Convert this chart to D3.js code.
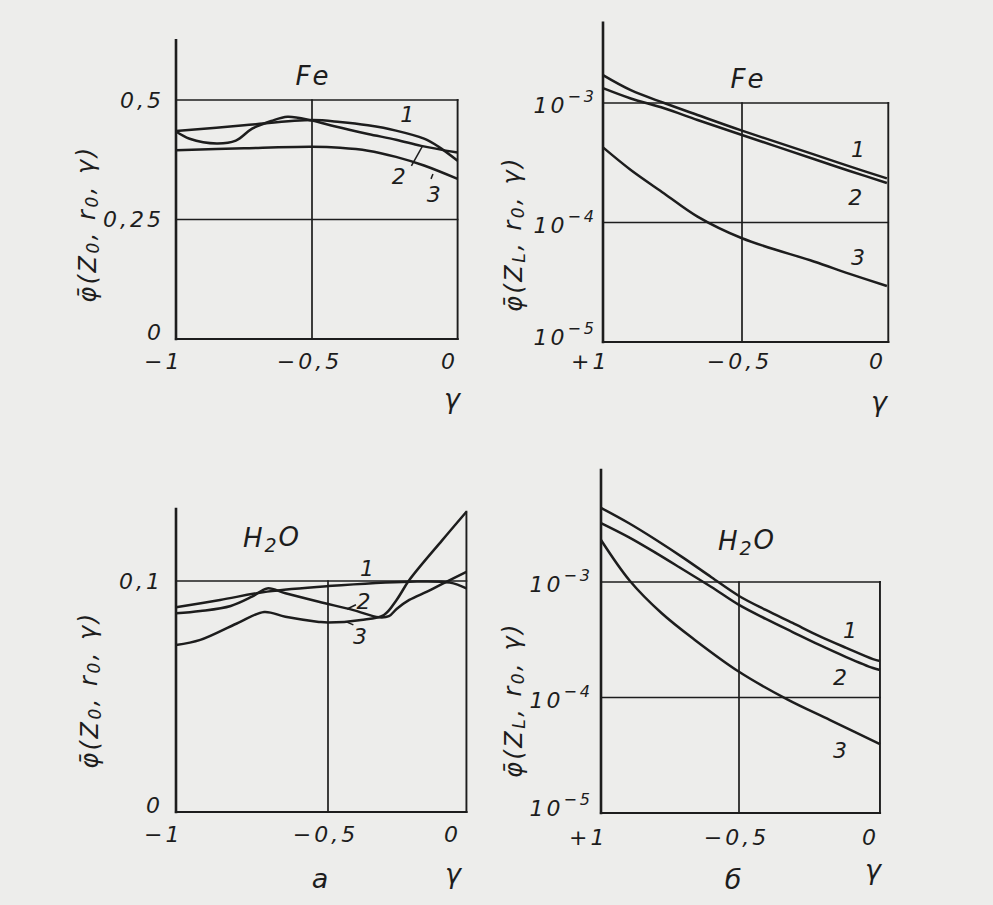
<!DOCTYPE html>
<html>
<head>
<meta charset="utf-8">
<script src="https://cdn.jsdelivr.net/npm/d3@7"></script>
<style>
  body { margin: 0; background: #ededeb; }
  svg text {
    font-family: "DejaVu Sans", "Liberation Sans", sans-serif;
    font-style: italic;
    fill: #1d1d1d;
  }
  .tick-label { font-size: 22px; letter-spacing: 3px; }
  .curve-label { font-size: 22px; }
  .title { font-size: 26px; letter-spacing: 2px; }
  .y-title { font-size: 24px; letter-spacing: 2.5px; }
  .gamma { font-size: 27px; }
</style>
</head>
<body>
<svg id="chart" width="993" height="905"></svg>
<script>
// Tick values and labels
const gammaTicks = [-1, -0.5, 0];
const gammaTickLabelsA = ["−1", "−0,5", "0"];
const gammaTickLabelsB = ["+1", "−0,5", "0"];
const feLinearTicks = [0, 0.25, 0.5];
const feLinearTickLabels = ["0", "0,25", "0,5"];
const waterLinearTicks = [0, 0.1];
const waterLinearTickLabels = ["0", "0,1"];
const logTicks = [1e-5, 1e-4, 1e-3];
const logTickExponents = ["−5", "−4", "−3"];
const curveNames = ["1", "2", "3"];

// Fe, phi(z0, r0, gamma)
const feZ0Gamma1 = [-1, -0.75, -0.5, -0.4, -0.3, -0.2, -0.1, -0.05, 0.02];
const feZ0Curve1 = [0.435, 0.447, 0.458, 0.454, 0.447, 0.436, 0.419, 0.403, 0.373];
const feZ0Gamma2 = [-1, -0.95, -0.85, -0.78, -0.72, -0.65, -0.59, -0.5, -0.42, -0.3, -0.2, -0.11, 0.02];
const feZ0Curve2 = [0.434, 0.419, 0.409, 0.415, 0.44, 0.456, 0.465, 0.457, 0.445, 0.429, 0.417, 0.404, 0.39];
const feZ0Gamma3 = [-1, -0.75, -0.5, -0.4, -0.3, -0.2, -0.1, 0.02];
const feZ0Curve3 = [0.395, 0.399, 0.402, 0.4, 0.394, 0.381, 0.363, 0.335];

// Fe, phi(zL, r0, gamma)
const feZLGamma = [-1, -0.9, -0.78, -0.66, -0.5, -0.24, -0.11, 0.025];
const feZLCurve1 = [1.71e-3, 1.28e-3, 1.0e-3, 7.94e-4, 5.87e-4, 3.72e-4, 2.95e-4, 2.34e-4];
const feZLCurve2 = [1.33e-3, 1.09e-3, 9.03e-4, 7.21e-4, 5.4e-4, 3.4e-4, 2.7e-4, 2.14e-4];
const feZLCurve3 = [4.25e-4, 2.75e-4, 1.75e-4, 1.12e-4, 7.38e-5, 4.72e-5, 3.72e-5, 2.94e-5];

// H2O, phi(z0, r0, gamma)
const waterZ0Gamma1 = [-1, -0.855, -0.7, -0.5, -0.18, -0.02, 0.045];
const waterZ0Curve1 = [0.0886, 0.0918, 0.0954, 0.0978, 0.0997, 0.0993, 0.0968];
const waterZ0Gamma2 = [-1, -0.92, -0.82, -0.75, -0.7, -0.64, -0.53, -0.4, -0.3, -0.26, -0.23, -0.18, -0.11, -0.05, 0.045];
const waterZ0Curve2 = [0.086, 0.087, 0.0892, 0.0932, 0.0968, 0.0947, 0.091, 0.0874, 0.0843, 0.0848, 0.0879, 0.0918, 0.0954, 0.0988, 0.104];
const waterZ0Gamma3 = [-1, -0.92, -0.8, -0.71, -0.64, -0.53, -0.5, -0.37, -0.28, -0.23, -0.18, -0.05, 0.045];
const waterZ0Curve3 = [0.0723, 0.0745, 0.0816, 0.0866, 0.0845, 0.0823, 0.082, 0.0831, 0.0853, 0.0918, 0.1004, 0.1177, 0.13];

// H2O, phi(zL, r0, gamma)
const waterZLGamma = [-1, -0.9, -0.8, -0.7, -0.6, -0.5, -0.4, -0.3, -0.2, -0.1, 0, 0.026];
const waterZLCurve1 = [4.38e-3, 3.24e-3, 2.31e-3, 1.61e-3, 1.1e-3, 7.57e-4, 5.73e-4, 4.42e-4, 3.4e-4, 2.69e-4, 2.15e-4, 2.07e-4];
const waterZLCurve2 = [3.24e-3, 2.45e-3, 1.78e-3, 1.27e-3, 9.05e-4, 6.33e-4, 4.79e-4, 3.69e-4, 2.85e-4, 2.24e-4, 1.8e-4, 1.73e-4];
const waterZLGamma3 = [-1, -0.895, -0.78, -0.66, -0.5, -0.32, -0.16, 0.026];
const waterZLCurve3 = [2.31e-3, 1.02e-3, 5.36e-4, 3.15e-4, 1.67e-4, 9.64e-5, 6.38e-5, 3.95e-5];

const ink = "#1d1d1d";
const svg = d3.select("#chart");

/*
 * Panel settings: hand-drawn grids are not evenly spaced,
 * so the gamma scale is piecewise linear through -1, -0.5 and 0
 */
const panels = [
  {
    xRange: [176, 312, 452], xEnd: 0.02,
    log: false, yDomain: [0, 0.5], yRange: [339, 100],
    yAxisTop: 0.625, boxTop: 0.5, rightTop: 0.5, midLine: 0.25,
    yTicks: feLinearTicks, yTickLabels: feLinearTickLabels, yPad: 12,
    xTickLabels: gammaTickLabelsA, xPad: 14,
    series: [[feZ0Gamma1, feZ0Curve1], [feZ0Gamma2, feZ0Curve2], [feZ0Gamma3, feZ0Curve3]],
    title: ["Fe", null, 313, 76],
    yTitle: ["0", 88, 224],
    gammaAt: [452, 398], letter: null,
    labels: [[-0.16, 0.469], [-0.19, 0.339], [-0.065, 0.303]],
    leaders: [[[-0.145, 0.362], [-0.105, 0.404]], [[-0.075, 0.335], [-0.068, 0.345]]],
  },
  {
    xRange: [603, 742, 880], xEnd: 0.03,
    log: true, yDomain: [1e-5, 1e-3], yRange: [342, 103],
    yAxisTop: 4.7e-3, boxTop: 1e-3, rightTop: 1e-3, midLine: 1e-4,
    yTicks: logTicks, yPad: 6,
    xTickLabels: gammaTickLabelsB, xPad: 11,
    series: [[feZLGamma, feZLCurve1], [feZLGamma, feZLCurve2], [feZLGamma, feZLCurve3]],
    title: ["Fe", null, 748, 79],
    yTitle: ["L", 514, 234],
    gammaAt: [879, 401], letter: null,
    labels: [[-0.08, 4.05e-4], [-0.09, 1.63e-4], [-0.08, 5.05e-5]],
    leaders: [],
  },
  {
    xRange: [176, 328, 455], xEnd: 0.045,
    log: false, yDomain: [0, 0.1], yRange: [812, 581],
    yAxisTop: 0.1312, boxTop: 0.1, rightTop: 0.13, midLine: null,
    yTicks: waterLinearTicks, yTickLabels: waterLinearTickLabels, yPad: 13,
    xTickLabels: gammaTickLabelsA, xPad: 14,
    series: [[waterZ0Gamma1, waterZ0Curve1], [waterZ0Gamma2, waterZ0Curve2], [waterZ0Gamma3, waterZ0Curve3]],
    title: ["H", "2", 272, 538],
    yTitle: ["0", 90, 690],
    gammaAt: [453, 873], letter: ["a", 320, 878],
    labels: [[-0.346, 0.1056], [-0.36, 0.0913], [-0.374, 0.0758]],
    leaders: [[[-0.39, 0.0897], [-0.425, 0.0879]], [[-0.4, 0.081], [-0.43, 0.0824]]],
  },
  {
    xRange: [601, 739, 873], xEnd: 0.026,
    log: true, yDomain: [1e-5, 1e-3], yRange: [813, 582],
    yAxisTop: 9.3e-3, boxTop: 1e-3, rightTop: 1e-3, midLine: 1e-4,
    yTicks: logTicks, yPad: 8,
    xTickLabels: gammaTickLabelsB, xPad: 16,
    series: [[waterZLGamma, waterZLCurve1], [waterZLGamma, waterZLCurve2], [waterZLGamma3, waterZLCurve3]],
    title: ["H", "2", 747, 541],
    yTitle: ["L", 514, 700],
    gammaAt: [873, 869], letter: ["б", 733, 879],
    labels: [[-0.086, 3.84e-4], [-0.123, 1.5e-4], [-0.123, 3.5e-5]],
    leaders: [],
  },
];

/*
 * Draws one of the four panels
 *
 * @param p - panel settings
 */
const drawPanel = (p) => {
  const x = d3.scaleLinear().domain(gammaTicks).range(p.xRange);
  const y = (p.log ? d3.scaleLog() : d3.scaleLinear()).domain(p.yDomain).range(p.yRange);
  const g = svg.append("g");
  const yMin = p.yDomain[0];

  const rule = (x1, y1, x2, y2, w) =>
    g.append("line")
      .attr("x1", x1).attr("y1", y1).attr("x2", x2).attr("y2", y2)
      .attr("stroke", ink).attr("stroke-width", w).attr("stroke-linecap", "square");

  // Frame and grid
  rule(x(-1), y(yMin), x(-1), y(p.yAxisTop), 2.6);
  rule(x(-1), y(yMin), x(p.xEnd), y(yMin), 2.2);
  rule(x(-1), y(p.boxTop), x(p.xEnd), y(p.boxTop), 1.7);
  rule(x(p.xEnd), y(yMin), x(p.xEnd), y(p.rightTop), 1.9);
  rule(x(-0.5), y(yMin), x(-0.5), y(p.boxTop), 1.7);
  if (p.midLine !== null) rule(x(-1), y(p.midLine), x(p.xEnd), y(p.midLine), 1.6);

  // Curves
  const line = d3.line()
    .x((d) => x(d[0]))
    .y((d) => y(d[1]))
    .curve(d3.curveCatmullRom.alpha(0.5));

  p.series.forEach(([gs, vs]) => {
    g.append("path")
      .datum(gs.map((v, i) => [v, vs[i]]))
      .attr("d", line)
      .attr("fill", "none")
      .attr("stroke", ink)
      .attr("stroke-width", 2.5);
  });

  // X axis tick labels
  g.append("g")
    .attr("transform", "translate(0," + y(yMin) + ")")
    .call(d3.axisBottom(x).tickValues(gammaTicks).tickSize(0).tickPadding(p.xPad)
      .tickFormat((d, i) => p.xTickLabels[i]))
    .call((a) => a.select(".domain").remove())
    .selectAll("text")
    .attr("class", "tick-label")
    .attr("text-anchor", (d, i) => (i === 0 ? "end" : "middle"))
    .attr("dx", (d, i) => (i === 0 ? 6 : -3));

  // Y axis tick labels
  const yAxis = d3.axisLeft(y).tickValues(p.yTicks).tickSize(0).tickPadding(p.yPad)
    .tickFormat((d, i) => (p.log ? "10" : p.yTickLabels[i]));
  const yText = g.append("g")
    .attr("transform", "translate(" + x(-1) + ",0)")
    .call(yAxis)
    .call((a) => a.select(".domain").remove())
    .selectAll("text")
    .attr("class", "tick-label")
    .attr("y", (d, i) => (i === 0 ? -7 : 0));

  if (p.log) {
    yText.attr("dy", "0.45em")
      .append("tspan")
      .attr("dy", "-0.7em")
      .style("font-size", "16px")
      .text((d, i) => logTickExponents[i]);
  }

  // Curve numbers and leader strokes
  g.selectAll(".curve-label")
    .data(p.labels)
    .enter()
    .append("text")
    .attr("class", "curve-label")
    .attr("x", (d) => x(d[0]))
    .attr("y", (d) => y(d[1]))
    .attr("text-anchor", "middle")
    .attr("dominant-baseline", "central")
    .text((d, i) => curveNames[i]);

  p.leaders.forEach((l) => {
    g.append("path")
      .attr("d", d3.line().x((d) => x(d[0])).y((d) => y(d[1]))(l))
      .attr("fill", "none")
      .attr("stroke", ink)
      .attr("stroke-width", 1.5);
  });

  // Title (Fe or H2O)
  const t = g.append("text")
    .attr("class", "title")
    .attr("x", p.title[2])
    .attr("y", p.title[3])
    .attr("text-anchor", "middle")
    .attr("dominant-baseline", "central");
  t.append("tspan").text(p.title[0]);
  if (p.title[1]) {
    t.append("tspan").attr("dy", "0.35em").style("font-size", "19px").text(p.title[1]);
    t.append("tspan").attr("dy", "-0.3em").text("O");
  }

  // Rotated y title
  const yt = g.append("text")
    .attr("class", "y-title")
    .attr("transform", "translate(" + p.yTitle[1] + "," + p.yTitle[2] + ") rotate(-90)")
    .attr("text-anchor", "middle")
    .attr("dominant-baseline", "central");
  yt.append("tspan").text("φ̄(Z");
  yt.append("tspan").attr("dy", "0.3em").style("font-size", "17px").text(p.yTitle[0]);
  yt.append("tspan").attr("dy", "-0.25em").text(", r");
  yt.append("tspan").attr("dy", "0.3em").style("font-size", "17px").text("0");
  yt.append("tspan").attr("dy", "-0.25em").text(", γ)");

  // gamma under the axis, panel letter
  g.append("text")
    .attr("class", "gamma")
    .attr("x", p.gammaAt[0])
    .attr("y", p.gammaAt[1])
    .attr("text-anchor", "middle")
    .attr("dominant-baseline", "central")
    .text("γ");

  if (p.letter) {
    g.append("text")
      .attr("class", "gamma")
      .attr("x", p.letter[1])
      .attr("y", p.letter[2])
      .attr("text-anchor", "middle")
      .attr("dominant-baseline", "central")
      .text(p.letter[0]);
  }
};

panels.forEach(drawPanel);
</script>
</body>
</html>
